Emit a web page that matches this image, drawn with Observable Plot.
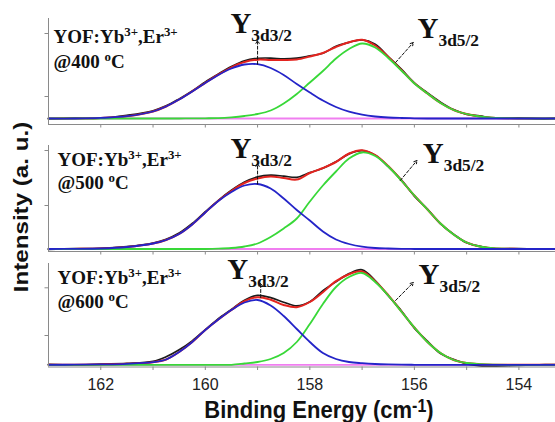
<!DOCTYPE html>
<html>
<head>
<meta charset="utf-8">
<script src="https://cdn.jsdelivr.net/npm/d3@7"></script>
<script src="https://cdn.jsdelivr.net/npm/@observablehq/plot@0.6"></script>
<style>
  html, body { margin: 0; padding: 0; background: #fff; overflow: hidden; }
  #chart { position: relative; width: 555px; height: 422px; background: #fff; }
  #chart svg { position: absolute; left: 0; }
  .title { position: absolute; font-family: 'Liberation Sans', Arial, sans-serif; font-weight: bold; color: #111; white-space: nowrap; line-height: 1; }
</style>
</head>
<body>
<div id="chart"></div>
<script>
// ---------- data ----------
const energy = [163, 162.5, 162, 161.5, 161, 160.75, 160.5, 160.25, 160, 159.75, 159.5, 159.25, 159, 158.75, 158.5, 158.25, 158, 157.75, 157.5, 157.25, 157, 156.75, 156.5, 156.25, 156, 155.75, 155.5, 155.25, 155, 154.75, 154.5, 154, 153.5, 153.3];

const data400  = [5.6, 6.4, 6.3, 9.2, 13.8, 18.6, 25.6, 33.5, 42.6, 50.6, 58, 63.8, 66.2, 66.4, 65.6, 66.3, 68.6, 71.2, 78.2, 82.2, 84.6, 80.2, 67.9, 55.3, 41.7, 31.6, 22.4, 14.9, 10.1, 8.6, 6.4, 6.6, 5.7, 6.2];
const fit400   = [6, 6, 6.6, 8.3, 13, 18, 25, 33.1, 41.7, 49.9, 57.2, 62.5, 64.8, 64.5, 64.5, 65, 68, 71.5, 77.5, 82.3, 84.8, 79, 67.5, 54.5, 41.2, 31, 21.5, 14.5, 10.5, 8, 6.8, 6.1, 6, 6];
const blue400  = [6, 6, 6.6, 8.3, 13, 18, 25, 33, 41.5, 49.5, 56, 60, 60.3, 56.5, 49.5, 40.5, 32, 24, 17.5, 12.8, 9.8, 8, 7, 6.5, 6.2, 6, 6, 6, 6, 6, 6, 6, 6, 6];
const green400 = [6, 6, 6, 6, 6, 6, 6, 6.1, 6.2, 6.4, 7.2, 8.5, 10.5, 14, 21, 30.5, 42, 53.5, 66, 75.5, 81, 77, 66.5, 54, 41, 31, 21.5, 14.5, 10.5, 8, 6.8, 6.1, 6, 6];
const base400 = 6;

const data500  = [2.2, 2.8, 3.1, 4.9, 8.5, 12.2, 18.4, 28, 39.8, 51.2, 61.2, 69.4, 74.6, 76.3, 75.4, 74.2, 78.9, 83.2, 89.8, 97.6, 100.8, 96.2, 84.9, 71.6, 55.4, 42.5, 27.6, 17.4, 8.7, 5.3, 3, 2.9, 2.3, 2.6];
const fit500   = [2.5, 2.6, 3, 4.5, 8, 11.5, 17.5, 27, 39, 50.8, 60.5, 68.5, 73, 75, 73.5, 72, 78.5, 83.5, 89.5, 98, 101.3, 96.5, 85.5, 71.2, 56, 42, 28, 17, 9, 5, 3.3, 2.6, 2.5, 2.5];
const blue500  = [2.5, 2.6, 3, 4.5, 8, 11.5, 17.5, 27, 39, 50.5, 59.5, 66, 67.5, 63, 53, 41.5, 31, 20, 12, 7.5, 4.8, 3.5, 3, 2.7, 2.5, 2.5, 2.5, 2.5, 2.5, 2.5, 2.5, 2.5, 2.5, 2.5];
const green500 = [2.5, 2.5, 2.5, 2.5, 2.5, 2.5, 2.5, 2.5, 2.5, 2.8, 3.5, 5, 8, 14.5, 23, 33, 50, 66, 80, 93, 99, 95.5, 85, 71, 56, 42, 28, 17, 9, 5, 3.3, 2.6, 2.5, 2.5];
const base500 = 2.5;

const data600  = [2.6, 1.9, 2.9, 3.6, 5.6, 10.2, 17.2, 26.2, 37.4, 48.4, 57.6, 66.8, 71.6, 69.4, 64.8, 61.1, 65.2, 76.3, 85.2, 93.4, 97.2, 86.5, 71.2, 56.3, 38.9, 25.8, 13.4, 7.6, 3.1, 1.2, 0.8, 1.6, 2.5, 2.4];
const fit600   = [2.2, 2.3, 2.6, 3.2, 4.8, 7.5, 15, 25, 37, 47.5, 57, 65.8, 69.8, 67.3, 62, 59.8, 65, 74.8, 85.8, 92.8, 95.6, 85.8, 71.9, 55.7, 39.5, 25, 14, 7, 4, 2.8, 2.3, 2.2, 2.2, 2.2];
const blue600  = [2.2, 2.3, 2.6, 3.2, 4.8, 7.5, 15, 25, 37, 47.5, 57, 64.5, 67, 61.5, 51, 38, 25, 14, 8, 5, 3.8, 3, 2.6, 2.4, 2.2, 2.2, 2.2, 2.2, 2.2, 2.2, 2.2, 2.2, 2.2, 2.2];
const green600 = [2.2, 2.2, 2.2, 2.2, 2.2, 2.2, 2.2, 2.2, 2.2, 2.2, 2.2, 3.5, 5, 8, 14, 25, 43, 63, 80, 90, 94, 85, 71.5, 55.5, 39.5, 25, 14, 7, 4, 2.8, 2.3, 2.2, 2.2, 2.2];
const base600 = 2.2;

const temps = ["400", "500", "600"];
const sampleName = "YOF:Yb^{3+},Er^{3+}";
const peakNames = ["Y_{3d3/2}", "Y_{3d5/2}"];
const xTicks = [162, 161, 160, 159, 158, 157, 156, 155, 154];
const yTicks400 = [28, 91];
const yTicks500 = [46, 101];
const yTicks600 = [31.5, 79.2];

// ---------- styling ----------
const RED = "#e3241f", BLACK = "#1b1b1b", GREEN = "#38d838", BLUE = "#2424c8", MAG = "#f07ef0", AX = "#8a8a8a";
const SERIF = "'Liberation Serif', 'Times New Roman', serif";

// convert ^{..} / _{..} markup in svg text to tspans
function richText(root) {
  root.querySelectorAll("text").forEach(t => {
    const s = t.textContent;
    if (!/[\^_]\{/.test(s)) return;
    const parts = [];
    const re = /([\^_])\{([^}]*)\}|([^\^_]+)/g;
    let m;
    while ((m = re.exec(s))) parts.push(m[1] ? {k: m[1], s: m[2]} : {k: "", s: m[3]});
    t.textContent = "";
    let shift = 0;
    for (const p of parts) {
      const ts = document.createElementNS("http://www.w3.org/2000/svg", "tspan");
      const target = p.k === "^" ? -0.36 : p.k === "_" ? 0.28 : 0;
      const scale = p.k === "^" ? 0.68 : p.k === "_" ? 0.6 : 1;
      const delta = target - shift;
      if (delta) ts.setAttribute("dy", (delta / scale).toFixed(3) + "em");
      if (scale !== 1) ts.setAttribute("font-size", (scale * 100) + "%");
      ts.textContent = p.s;
      t.appendChild(ts);
      shift = target;
    }
  });
}

const panels = [
  {temp: temps[0], data: data400, fit: fit400, b: blue400, g: green400, base: base400, yTicks: yTicks400,
   top: 0, height: 130, mt: 18, mb: 6, ymax: 106, tx: 5, ty1: 24, ty2: 49,
   labels: [{E: 159.52, v: 92, t: peakNames[0]}, {E: 155.94, v: 87, t: peakNames[1]}],
   arrows: [{x1: 159.0, y1: 60.3, x2: 159.0, y2: 84}, {x1: 156.36, y1: 62, x2: 156.02, y2: 82}]},
  {temp: temps[1], data: data500, fit: fit500, b: blue500, g: green500, base: base500, yTicks: yTicks500,
   top: 130, height: 126, mt: 15, mb: 5, ymax: 106, tx: 9, ty1: 20, ty2: 43,
   labels: [{E: 159.52, v: 94, t: peakNames[0]}, {E: 155.84, v: 89, t: peakNames[1]}],
   arrows: [{x1: 159.0, y1: 67.5, x2: 159.0, y2: 88}, {x1: 156.27, y1: 71, x2: 155.95, y2: 91}]},
  {temp: temps[2], data: data600, fit: fit600, b: blue600, g: green600, base: base600, yTicks: yTicks600,
   top: 255, height: 167, mt: 8, mb: 55.5, ymax: 103.5, tx: 9, ty1: 20, ty2: 44, showX: true,
   labels: [{E: 159.58, v: 88.5, t: peakNames[0]}, {E: 155.92, v: 83.5, t: peakNames[1]}],
   arrows: [{x1: 158.94, y1: 69.5, x2: 158.94, y2: 84}, {x1: 156.36, y1: 66.5, x2: 156.02, y2: 84.5}]}
];

const chart = document.getElementById("chart");

for (const p of panels) {
  const rows = arr => energy.map((e, i) => ({E: e, v: arr[i]}));
  const svg = Plot.plot({
    width: 555, height: p.height,
    marginLeft: 48, marginRight: 0, marginTop: p.mt, marginBottom: p.mb,
    style: {background: "transparent", overflow: "visible", fontFamily: "'Liberation Sans', Arial, sans-serif"},
    x: {domain: [163, 153.3]},
    y: {domain: [0, p.ymax]},
    marks: [
      Plot.ruleY([p.base], {stroke: MAG, strokeWidth: 1.8}),
      Plot.line(rows(p.data), {x: "E", y: "v", stroke: BLACK, strokeWidth: 1.7, curve: "catmull-rom"}),
      Plot.line(rows(p.fit), {x: "E", y: "v", stroke: RED, strokeWidth: 2, curve: "catmull-rom"}),
      Plot.line(rows(p.g), {x: "E", y: "v", stroke: GREEN, strokeWidth: 1.8, curve: "catmull-rom"}),
      Plot.line(rows(p.b), {x: "E", y: "v", stroke: BLUE, strokeWidth: 1.8, curve: "catmull-rom"}),
      Plot.ruleX([163], {stroke: AX, strokeWidth: 1}),
      Plot.ruleY([0], {stroke: AX, strokeWidth: 1}),
      Plot.axisX(xTicks, {anchor: "bottom", tickSize: 3.5, tickPadding: 8, stroke: AX, fill: "#222", fontSize: 16,
        tickFormat: p.showX ? (d => d % 2 === 0 ? String(d) : "") : (() => ""), label: null}),
      Plot.axisY(p.yTicks, {anchor: "left", tickSize: 3.5, stroke: AX, tickFormat: () => "", label: null}),
      Plot.text([sampleName], {frameAnchor: "top-left", dx: p.tx, dy: p.ty1, lineAnchor: "bottom", textAnchor: "start",
        fontFamily: SERIF, fontWeight: "bold", fontSize: 19, fill: "#111"}),
      Plot.text([`@${p.temp} ^{o}C`], {frameAnchor: "top-left", dx: p.tx, dy: p.ty2, lineAnchor: "bottom", textAnchor: "start",
        fontFamily: SERIF, fontWeight: "bold", fontSize: 19, fill: "#111"}),
      Plot.arrow(p.arrows, {x1: "x1", y1: "y1", x2: "x2", y2: "y2", stroke: "#111", strokeWidth: 1,
        strokeDasharray: "3 2", headLength: 5}),
      Plot.text(p.labels, {x: "E", y: "v", text: "t", textAnchor: "start", lineAnchor: "bottom",
        fontFamily: SERIF, fontWeight: "bold", fontSize: 29, fill: "#111"})
    ]
  });
  svg.style.top = p.top + "px";
  richText(svg);
  chart.appendChild(svg);
}

// axis titles
const yt = document.createElement("div");
yt.className = "title";
yt.style.cssText += "left:20px; top:207px; font-size:21px; transform: translate(-50%,-50%) rotate(-90deg) scale(1.15,1);";
yt.textContent = "Intensity (a. u.)";
chart.appendChild(yt);

const xt = document.createElement("div");
xt.className = "title";
xt.style.cssText += "left:319px; top:410px; font-size:22px; transform: translate(-50%,-50%) scale(1,1.1);";
xt.innerHTML = "Binding Energy (cm<span style=\"font-size:16px; position:relative; top:-5px;\">-1</span>)";
chart.appendChild(xt);
</script>
</body>
</html>
